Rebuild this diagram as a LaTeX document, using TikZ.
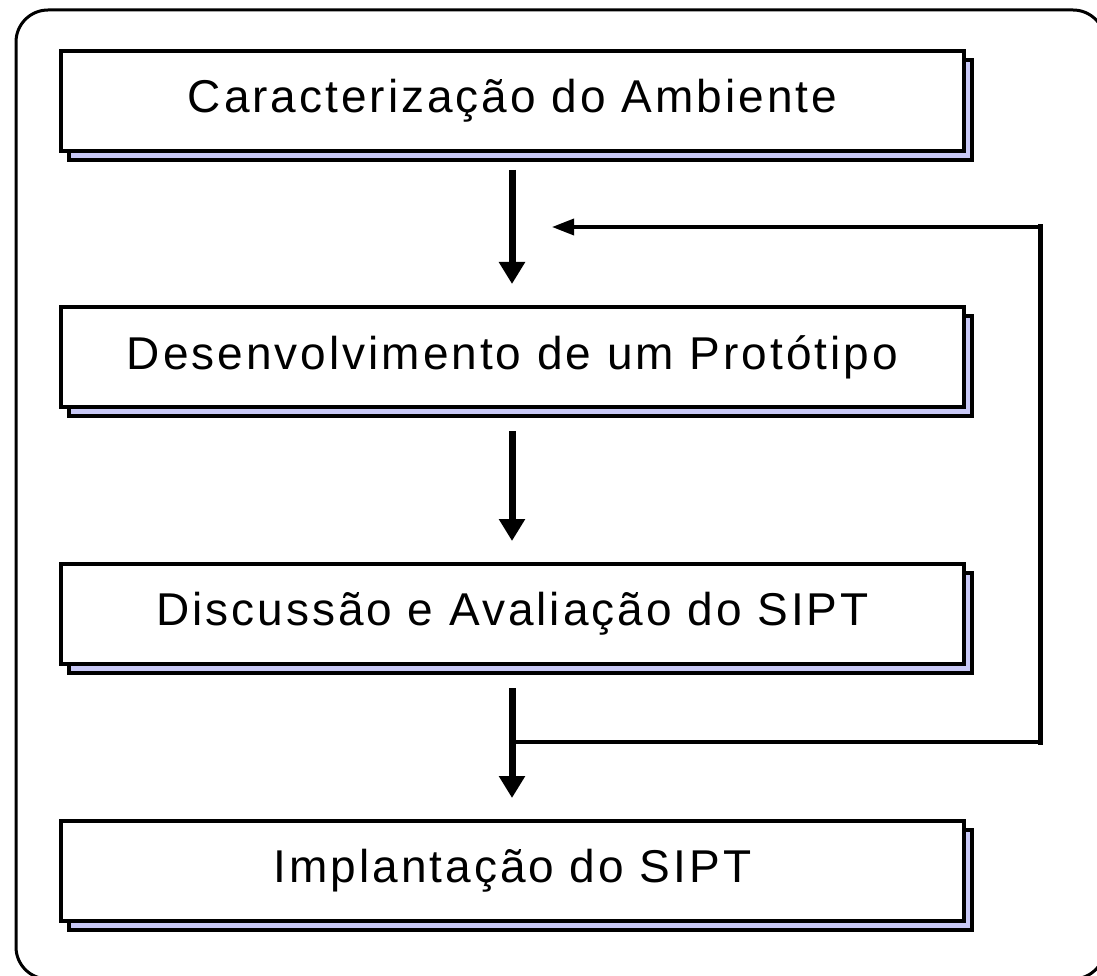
\documentclass[tikz,border=0pt]{standalone}
\usepackage{fontspec}
\setmainfont{Liberation Sans}[LetterSpace=6.5]
\usetikzlibrary{arrows.meta,shadows}
\definecolor{lav}{RGB}{200,200,246}
\tikzset{
  stepbox/.style={draw=black, line width=4pt, fill=white, rectangle,
    minimum width=903pt, minimum height=100pt, inner sep=0pt,
    font=\fontsize{46}{54}\selectfont,
    general shadow={shadow xshift=7.5pt, shadow yshift=-9pt, fill=lav, draw=black, line width=4pt}},
  bigarrow/.style={line width=7pt, -{Triangle[width=25pt,length=22pt]}},
  fbline/.style={line width=3.5pt},
  fbarrow/.style={line width=3.5pt, -{Triangle[width=16pt,length=22pt]}},
  frame/.style={line width=3pt, rounded corners=32pt}
}
\begin{document}
\begin{tikzpicture}[x=1pt,y=-1pt]
\useasboundingbox (0,0) rectangle (1097,976);
\draw[frame] (16,10) rectangle (1105,979);
\node[stepbox] (b1) at (512.5,101) {Caracterização do Ambiente};
\node[stepbox] (b2) at (512.5,357) {Desenvolvimento de um Protótipo};
\node[stepbox] (b3) at (512.5,614) {Discussão e Avaliação do SIPT};
\node[stepbox] (b4) at (512.5,871) {Implantação do SIPT};
\draw[bigarrow] ([yshift=-17pt]b1.south -| 512,0) -- ([yshift=21pt]b2.north -| 512,0);
\draw[bigarrow] ([yshift=-22pt]b2.south -| 512,0) -- ([yshift=21pt]b3.north -| 512,0);
\draw[bigarrow] ([yshift=-22pt]b3.south -| 512,0) -- ([yshift=21pt]b4.north -| 512,0);
\coordinate (fbj) at (512,742);
\coordinate (fbr) at (1040,742);
\coordinate (fbt) at (1040,227);
\coordinate (fbe) at (552,227);
\draw[fbline] (fbj) -- (fbr);
\draw[line width=5pt, line cap=rect] (fbr) -- (fbt);
\draw[fbarrow] (fbt) -- (fbe);
\end{tikzpicture}
\end{document}
